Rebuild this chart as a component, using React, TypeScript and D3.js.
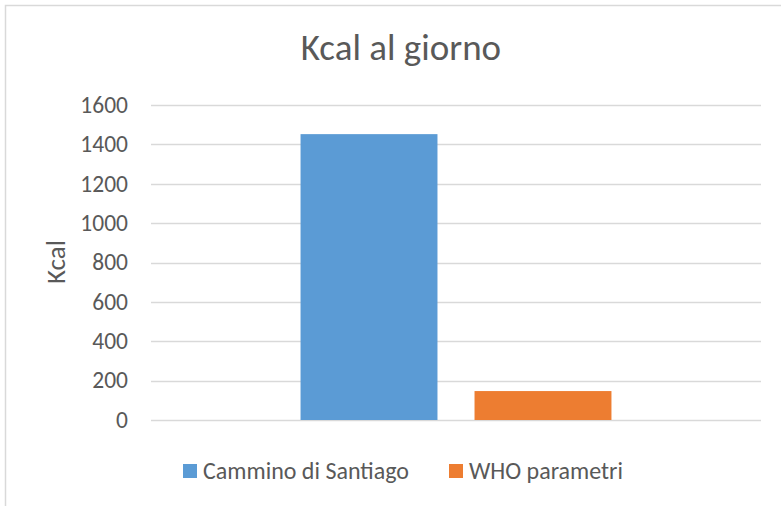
import React from "react";
import * as d3 from "d3";

const categories = [""];
const seriesNames = ["Cammino di Santiago", "WHO parametri"];
const seriesValues = [1452, 147];
const seriesColors = ["#5B9BD5", "#ED7D31"];
const yTicks = [0, 200, 400, 600, 800, 1000, 1200, 1400, 1600];
const title = "Kcal al giorno";
const yTitle = "Kcal";

const W = 781;
const H = 506;
const FONT = "Carlito, Calibri, 'Open Sans', sans-serif";
const TXT = "#595959";

export default function App() {
  const plotL = 151, plotR = 761, plotT = 105, plotB = 420;
  const x0 = d3.scaleBand<string>().domain(categories).range([plotL, plotR]).paddingInner(0).paddingOuter(0.481);
  const x1 = d3.scaleBand<string>().domain(seriesNames).range([0, x0.bandwidth()]).paddingInner(0.213).paddingOuter(0);
  const y = d3.scaleLinear().domain([0, 1600]).range([plotB, plotT]);

  const legendX = [183, 449];

  return (
    <svg width={W} height={H} style={{ position: "absolute", left: 0, top: 0, background: "#fff" }}>
      <rect x={0} y={0} width={W} height={H} fill="#fff" />
      <rect x={5.5} y={5.5} width={W + 20} height={H + 20} fill="#fff" stroke="#d9d9d9" strokeWidth={1.5} />
      <text x={401} y={60} textAnchor="middle" fontFamily={FONT} fontSize={37} fill={TXT}>{title}</text>
      {yTicks.map((t) => (
        <g key={t}>
          <line x1={plotL} x2={plotR} y1={Math.round(y(t)) + 0.5} y2={Math.round(y(t)) + 0.5} stroke="#d9d9d9" strokeWidth={1.3} />
          <text x={128} y={y(t)} dy="0.33em" textAnchor="end" fontFamily={FONT} fontSize={23.5} fill={TXT}>{t}</text>
        </g>
      ))}
      <text transform={`translate(65,${262}) rotate(-90)`} textAnchor="middle" fontFamily={FONT} fontSize={27} fill={TXT}>{yTitle}</text>
      {categories.map((c) => (
        <g key={c} transform={`translate(${x0(c)},0)`}>
          {seriesNames.map((s, i) => (
            <rect key={s} x={x1(s)} y={y(seriesValues[i])} width={x1.bandwidth()} height={y(0) - y(seriesValues[i])} fill={seriesColors[i]} />
          ))}
        </g>
      ))}
      {seriesNames.map((s, i) => (
        <g key={s}>
          <rect x={legendX[i]} y={464} width={14} height={14} fill={seriesColors[i]} />
          <text x={legendX[i] + 20} y={479} fontFamily={FONT} fontSize={24} fill={TXT}>{s}</text>
        </g>
      ))}
    </svg>
  );
}
